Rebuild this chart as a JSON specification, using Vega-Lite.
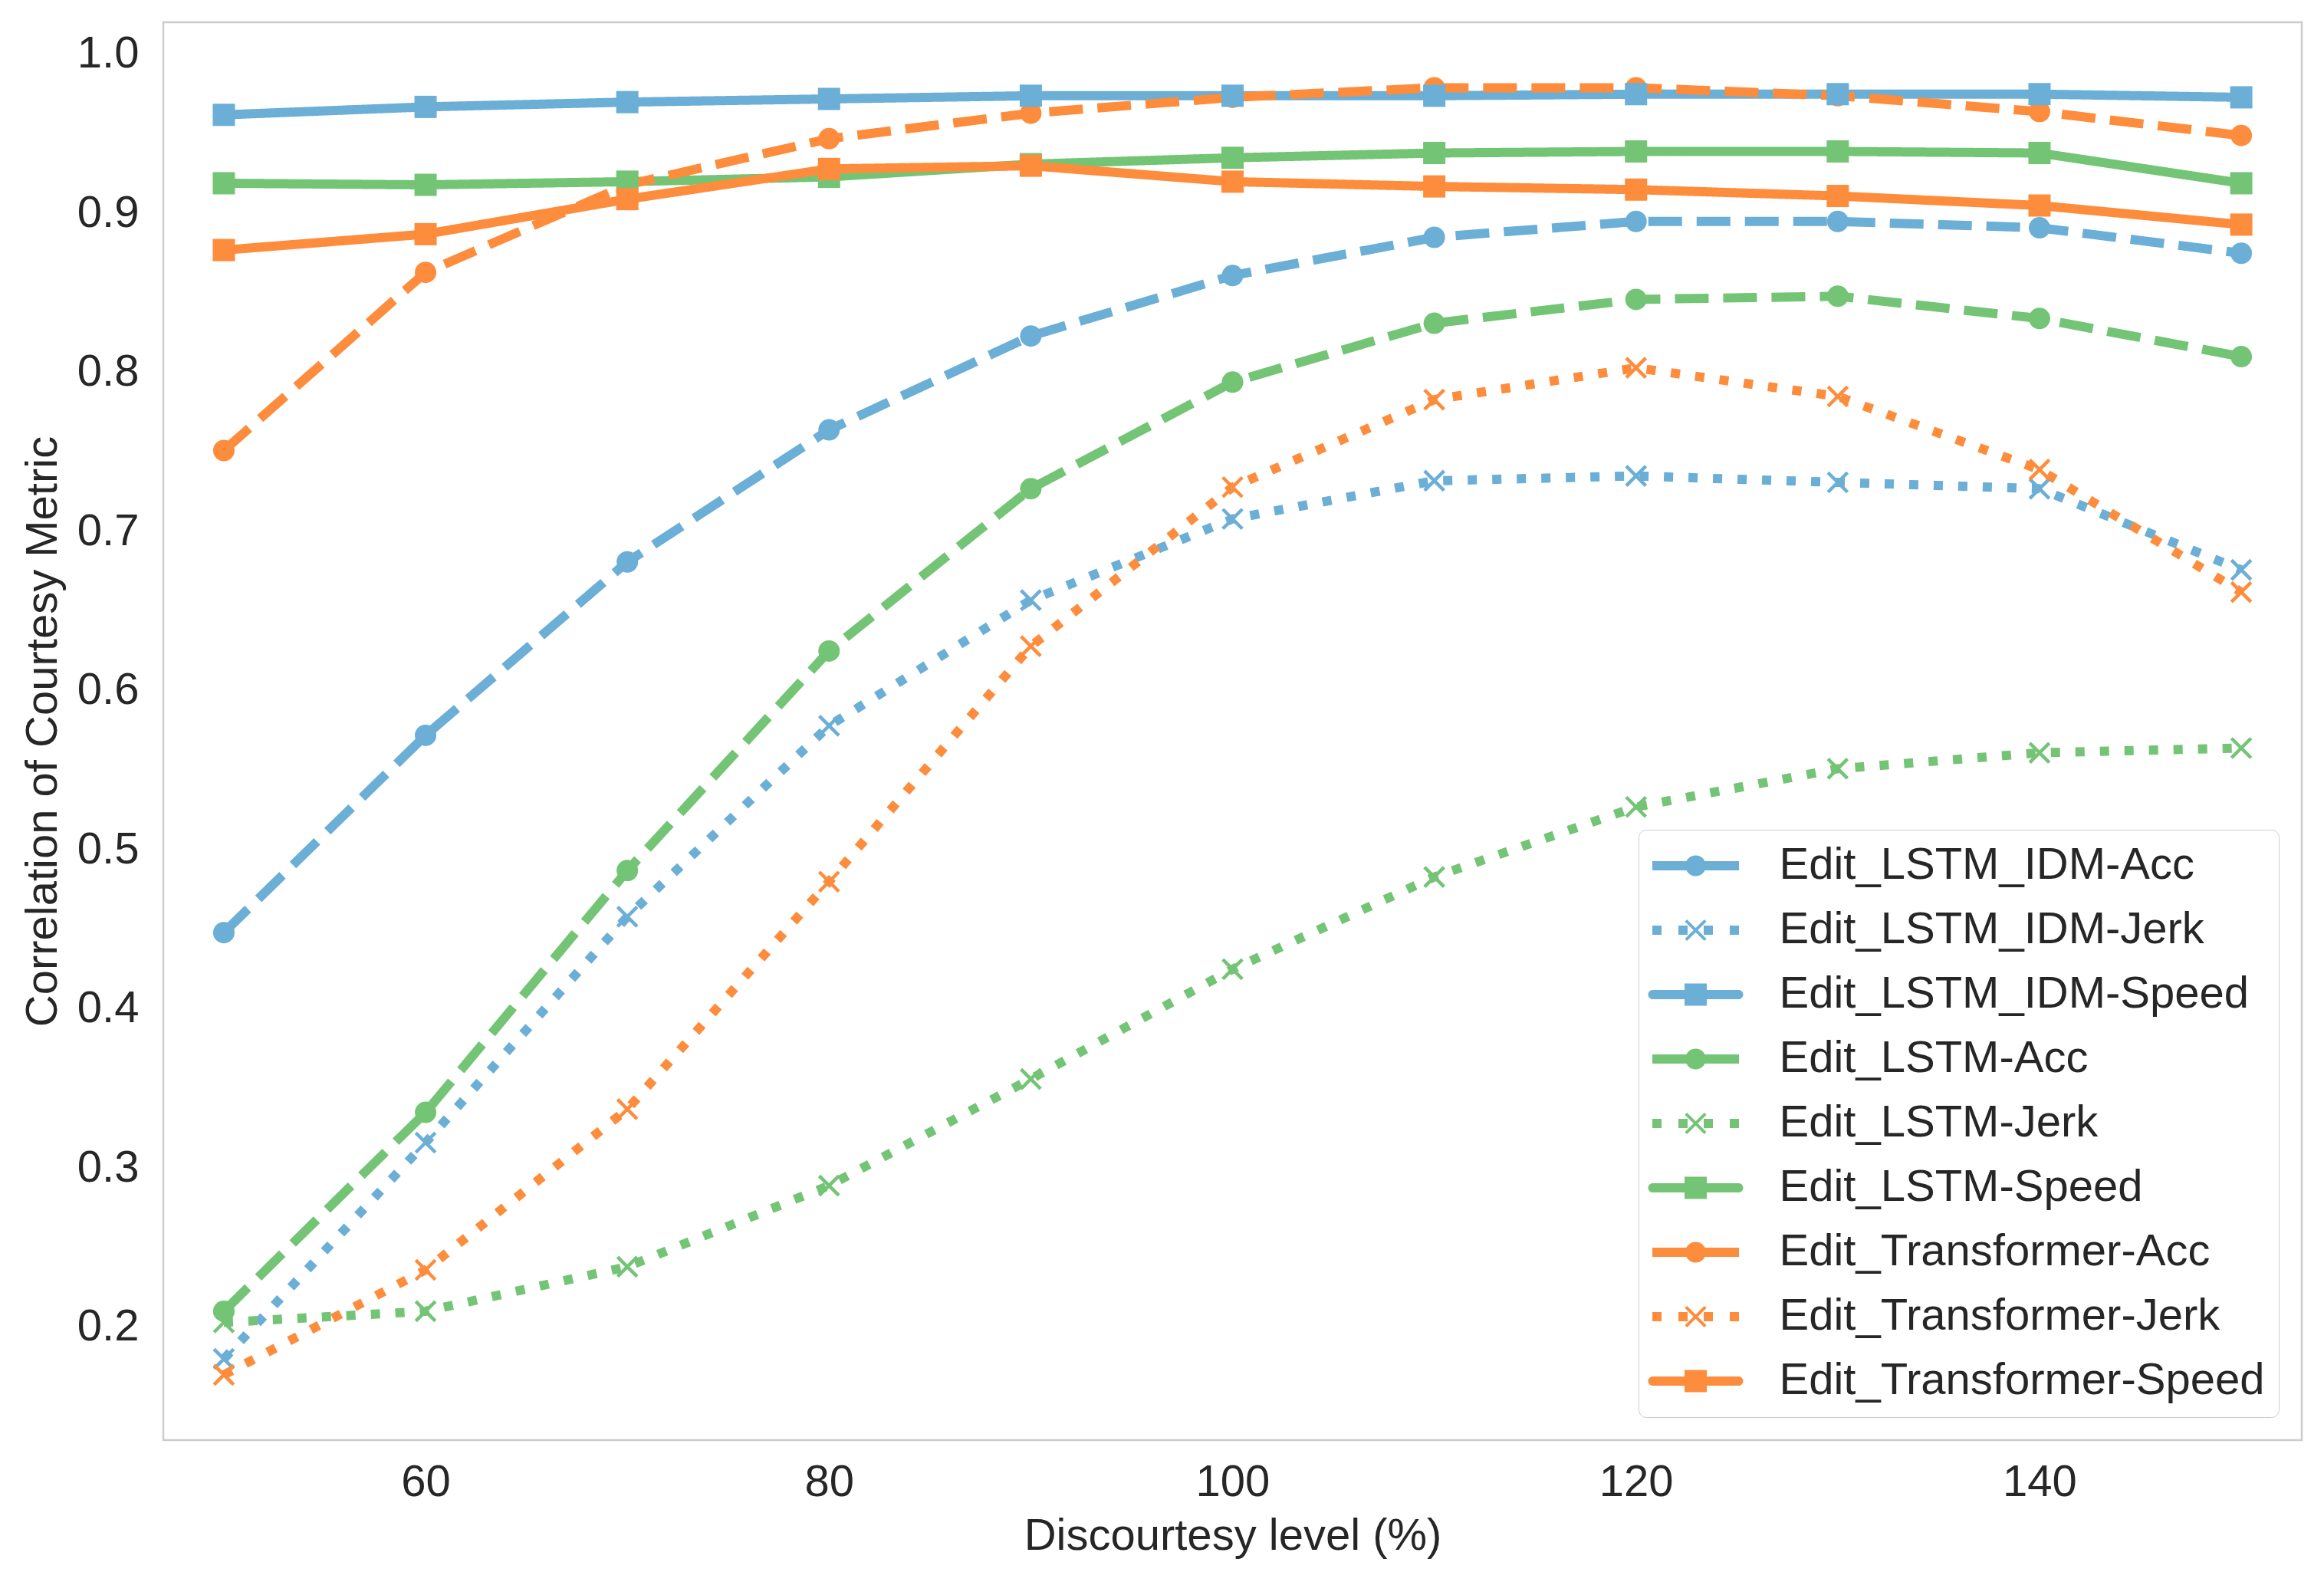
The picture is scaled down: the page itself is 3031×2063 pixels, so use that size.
{
  "$schema": "https://vega.github.io/schema/vega-lite/v6.json",
  "width": 2789,
  "height": 1849,
  "autosize": {"type": "none"},
  "padding": {"left": 213, "top": 29, "right": 29, "bottom": 185},
  "background": "white",
  "config": {
    "view": {"stroke": "#cccccc", "strokeWidth": 2.5},
    "font": "Liberation Sans",
    "axis": {
      "domain": false, "ticks": false, "tickSize": 0, "grid": false,
      "labelFont": "Liberation Sans", "labelFontSize": 58, "labelColor": "#262626",
      "titleFont": "Liberation Sans", "titleFontSize": 58, "titleFontWeight": "normal", "titleColor": "#262626"
    },
    "legend": {
      "labelFont": "Liberation Sans", "labelFontSize": 58, "labelColor": "#262626"
    }
  },
  "data": {
    "values": [
      {"series": "Edit_LSTM_IDM-Acc", "metric": "Acc", "level": 50, "corr": 0.448},
      {"series": "Edit_LSTM_IDM-Acc", "metric": "Acc", "level": 60, "corr": 0.572},
      {"series": "Edit_LSTM_IDM-Acc", "metric": "Acc", "level": 70, "corr": 0.681},
      {"series": "Edit_LSTM_IDM-Acc", "metric": "Acc", "level": 80, "corr": 0.764},
      {"series": "Edit_LSTM_IDM-Acc", "metric": "Acc", "level": 90, "corr": 0.823},
      {"series": "Edit_LSTM_IDM-Acc", "metric": "Acc", "level": 100, "corr": 0.861},
      {"series": "Edit_LSTM_IDM-Acc", "metric": "Acc", "level": 110, "corr": 0.885},
      {"series": "Edit_LSTM_IDM-Acc", "metric": "Acc", "level": 120, "corr": 0.895},
      {"series": "Edit_LSTM_IDM-Acc", "metric": "Acc", "level": 130, "corr": 0.895},
      {"series": "Edit_LSTM_IDM-Acc", "metric": "Acc", "level": 140, "corr": 0.891},
      {"series": "Edit_LSTM_IDM-Acc", "metric": "Acc", "level": 150, "corr": 0.875},

      {"series": "Edit_LSTM_IDM-Jerk", "metric": "Jerk", "level": 50, "corr": 0.180},
      {"series": "Edit_LSTM_IDM-Jerk", "metric": "Jerk", "level": 60, "corr": 0.316},
      {"series": "Edit_LSTM_IDM-Jerk", "metric": "Jerk", "level": 70, "corr": 0.458},
      {"series": "Edit_LSTM_IDM-Jerk", "metric": "Jerk", "level": 80, "corr": 0.578},
      {"series": "Edit_LSTM_IDM-Jerk", "metric": "Jerk", "level": 90, "corr": 0.657},
      {"series": "Edit_LSTM_IDM-Jerk", "metric": "Jerk", "level": 100, "corr": 0.708},
      {"series": "Edit_LSTM_IDM-Jerk", "metric": "Jerk", "level": 110, "corr": 0.732},
      {"series": "Edit_LSTM_IDM-Jerk", "metric": "Jerk", "level": 120, "corr": 0.735},
      {"series": "Edit_LSTM_IDM-Jerk", "metric": "Jerk", "level": 130, "corr": 0.731},
      {"series": "Edit_LSTM_IDM-Jerk", "metric": "Jerk", "level": 140, "corr": 0.727},
      {"series": "Edit_LSTM_IDM-Jerk", "metric": "Jerk", "level": 150, "corr": 0.676},

      {"series": "Edit_LSTM_IDM-Speed", "metric": "Speed", "level": 50, "corr": 0.962},
      {"series": "Edit_LSTM_IDM-Speed", "metric": "Speed", "level": 60, "corr": 0.967},
      {"series": "Edit_LSTM_IDM-Speed", "metric": "Speed", "level": 70, "corr": 0.970},
      {"series": "Edit_LSTM_IDM-Speed", "metric": "Speed", "level": 80, "corr": 0.972},
      {"series": "Edit_LSTM_IDM-Speed", "metric": "Speed", "level": 90, "corr": 0.974},
      {"series": "Edit_LSTM_IDM-Speed", "metric": "Speed", "level": 100, "corr": 0.974},
      {"series": "Edit_LSTM_IDM-Speed", "metric": "Speed", "level": 110, "corr": 0.974},
      {"series": "Edit_LSTM_IDM-Speed", "metric": "Speed", "level": 120, "corr": 0.975},
      {"series": "Edit_LSTM_IDM-Speed", "metric": "Speed", "level": 130, "corr": 0.975},
      {"series": "Edit_LSTM_IDM-Speed", "metric": "Speed", "level": 140, "corr": 0.975},
      {"series": "Edit_LSTM_IDM-Speed", "metric": "Speed", "level": 150, "corr": 0.973},

      {"series": "Edit_LSTM-Acc", "metric": "Acc", "level": 50, "corr": 0.210},
      {"series": "Edit_LSTM-Acc", "metric": "Acc", "level": 60, "corr": 0.335},
      {"series": "Edit_LSTM-Acc", "metric": "Acc", "level": 70, "corr": 0.487},
      {"series": "Edit_LSTM-Acc", "metric": "Acc", "level": 80, "corr": 0.625},
      {"series": "Edit_LSTM-Acc", "metric": "Acc", "level": 90, "corr": 0.727},
      {"series": "Edit_LSTM-Acc", "metric": "Acc", "level": 100, "corr": 0.794},
      {"series": "Edit_LSTM-Acc", "metric": "Acc", "level": 110, "corr": 0.831},
      {"series": "Edit_LSTM-Acc", "metric": "Acc", "level": 120, "corr": 0.846},
      {"series": "Edit_LSTM-Acc", "metric": "Acc", "level": 130, "corr": 0.848},
      {"series": "Edit_LSTM-Acc", "metric": "Acc", "level": 140, "corr": 0.834},
      {"series": "Edit_LSTM-Acc", "metric": "Acc", "level": 150, "corr": 0.810},

      {"series": "Edit_LSTM-Jerk", "metric": "Jerk", "level": 50, "corr": 0.203},
      {"series": "Edit_LSTM-Jerk", "metric": "Jerk", "level": 60, "corr": 0.210},
      {"series": "Edit_LSTM-Jerk", "metric": "Jerk", "level": 70, "corr": 0.238},
      {"series": "Edit_LSTM-Jerk", "metric": "Jerk", "level": 80, "corr": 0.289},
      {"series": "Edit_LSTM-Jerk", "metric": "Jerk", "level": 90, "corr": 0.356},
      {"series": "Edit_LSTM-Jerk", "metric": "Jerk", "level": 100, "corr": 0.425},
      {"series": "Edit_LSTM-Jerk", "metric": "Jerk", "level": 110, "corr": 0.483},
      {"series": "Edit_LSTM-Jerk", "metric": "Jerk", "level": 120, "corr": 0.527},
      {"series": "Edit_LSTM-Jerk", "metric": "Jerk", "level": 130, "corr": 0.551},
      {"series": "Edit_LSTM-Jerk", "metric": "Jerk", "level": 140, "corr": 0.561},
      {"series": "Edit_LSTM-Jerk", "metric": "Jerk", "level": 150, "corr": 0.564},

      {"series": "Edit_LSTM-Speed", "metric": "Speed", "level": 50, "corr": 0.919},
      {"series": "Edit_LSTM-Speed", "metric": "Speed", "level": 60, "corr": 0.918},
      {"series": "Edit_LSTM-Speed", "metric": "Speed", "level": 70, "corr": 0.920},
      {"series": "Edit_LSTM-Speed", "metric": "Speed", "level": 80, "corr": 0.923},
      {"series": "Edit_LSTM-Speed", "metric": "Speed", "level": 90, "corr": 0.931},
      {"series": "Edit_LSTM-Speed", "metric": "Speed", "level": 100, "corr": 0.935},
      {"series": "Edit_LSTM-Speed", "metric": "Speed", "level": 110, "corr": 0.938},
      {"series": "Edit_LSTM-Speed", "metric": "Speed", "level": 120, "corr": 0.939},
      {"series": "Edit_LSTM-Speed", "metric": "Speed", "level": 130, "corr": 0.939},
      {"series": "Edit_LSTM-Speed", "metric": "Speed", "level": 140, "corr": 0.938},
      {"series": "Edit_LSTM-Speed", "metric": "Speed", "level": 150, "corr": 0.919},

      {"series": "Edit_Transformer-Acc", "metric": "Acc", "level": 50, "corr": 0.751},
      {"series": "Edit_Transformer-Acc", "metric": "Acc", "level": 60, "corr": 0.863},
      {"series": "Edit_Transformer-Acc", "metric": "Acc", "level": 70, "corr": 0.918},
      {"series": "Edit_Transformer-Acc", "metric": "Acc", "level": 80, "corr": 0.947},
      {"series": "Edit_Transformer-Acc", "metric": "Acc", "level": 90, "corr": 0.963},
      {"series": "Edit_Transformer-Acc", "metric": "Acc", "level": 100, "corr": 0.973},
      {"series": "Edit_Transformer-Acc", "metric": "Acc", "level": 110, "corr": 0.979},
      {"series": "Edit_Transformer-Acc", "metric": "Acc", "level": 120, "corr": 0.979},
      {"series": "Edit_Transformer-Acc", "metric": "Acc", "level": 130, "corr": 0.974},
      {"series": "Edit_Transformer-Acc", "metric": "Acc", "level": 140, "corr": 0.964},
      {"series": "Edit_Transformer-Acc", "metric": "Acc", "level": 150, "corr": 0.949},

      {"series": "Edit_Transformer-Jerk", "metric": "Jerk", "level": 50, "corr": 0.170},
      {"series": "Edit_Transformer-Jerk", "metric": "Jerk", "level": 60, "corr": 0.236},
      {"series": "Edit_Transformer-Jerk", "metric": "Jerk", "level": 70, "corr": 0.337},
      {"series": "Edit_Transformer-Jerk", "metric": "Jerk", "level": 80, "corr": 0.480},
      {"series": "Edit_Transformer-Jerk", "metric": "Jerk", "level": 90, "corr": 0.628},
      {"series": "Edit_Transformer-Jerk", "metric": "Jerk", "level": 100, "corr": 0.728},
      {"series": "Edit_Transformer-Jerk", "metric": "Jerk", "level": 110, "corr": 0.783},
      {"series": "Edit_Transformer-Jerk", "metric": "Jerk", "level": 120, "corr": 0.803},
      {"series": "Edit_Transformer-Jerk", "metric": "Jerk", "level": 130, "corr": 0.785},
      {"series": "Edit_Transformer-Jerk", "metric": "Jerk", "level": 140, "corr": 0.739},
      {"series": "Edit_Transformer-Jerk", "metric": "Jerk", "level": 150, "corr": 0.662},

      {"series": "Edit_Transformer-Speed", "metric": "Speed", "level": 50, "corr": 0.877},
      {"series": "Edit_Transformer-Speed", "metric": "Speed", "level": 60, "corr": 0.887},
      {"series": "Edit_Transformer-Speed", "metric": "Speed", "level": 70, "corr": 0.909},
      {"series": "Edit_Transformer-Speed", "metric": "Speed", "level": 80, "corr": 0.928},
      {"series": "Edit_Transformer-Speed", "metric": "Speed", "level": 90, "corr": 0.930},
      {"series": "Edit_Transformer-Speed", "metric": "Speed", "level": 100, "corr": 0.920},
      {"series": "Edit_Transformer-Speed", "metric": "Speed", "level": 110, "corr": 0.917},
      {"series": "Edit_Transformer-Speed", "metric": "Speed", "level": 120, "corr": 0.915},
      {"series": "Edit_Transformer-Speed", "metric": "Speed", "level": 130, "corr": 0.911},
      {"series": "Edit_Transformer-Speed", "metric": "Speed", "level": 140, "corr": 0.905},
      {"series": "Edit_Transformer-Speed", "metric": "Speed", "level": 150, "corr": 0.893}
    ]
  },
  "encoding": {
    "x": {
      "field": "level", "type": "quantitative",
      "scale": {"domain": [47, 153], "nice": false, "zero": false},
      "axis": {"values": [60, 80, 100, 120, 140], "labelPadding": 26, "title": "Discourtesy level (%)", "titleBaseline": "alphabetic", "titleY": 142}
    },
    "y": {
      "field": "corr", "type": "quantitative",
      "scale": {"domain": [0.129, 1.0202], "nice": false, "zero": false},
      "axis": {"values": [0.2, 0.3, 0.4, 0.5, 0.6, 0.7, 0.8, 0.9, 1.0], "format": ".1f", "labelPadding": 32, "title": "Correlation of Courtesy Metric", "titleBaseline": "alphabetic", "titleAngle": 270, "titleX": -140}
    },
    "color": {
      "field": "series", "type": "nominal",
      "scale": {
        "domain": ["Edit_LSTM_IDM-Acc", "Edit_LSTM_IDM-Jerk", "Edit_LSTM_IDM-Speed", "Edit_LSTM-Acc", "Edit_LSTM-Jerk", "Edit_LSTM-Speed", "Edit_Transformer-Acc", "Edit_Transformer-Jerk", "Edit_Transformer-Speed"],
        "range": ["#6baed6", "#6baed6", "#6baed6", "#74c476", "#74c476", "#74c476", "#fd8d3c", "#fd8d3c", "#fd8d3c"]
      },
      "legend": {
        "title": null,
        "orient": "bottom-right",
        "offset": 30,
        "padding": 18,
        "rowPadding": 26,
        "cornerRadius": 10,
        "strokeColor": "#cccccc",
        "fillColor": "white",
        "labelOffset": 80,
        "symbolOffset": 27.5,
        "labelLimit": 2000,
        "symbolSize": 1600,
        "symbolStrokeWidth": 0,
        "encode": {
          "symbols": {
            "update": {
              "shape": {"signal": "indexof(datum.value,'Acc')>=0 ? 'M-2.825,-0.3H2.825V0.3H-2.825Z M-0.675,0A0.675,0.675 0 1,1 0.675,0A0.675,0.675 0 1,1 -0.675,0Z' : indexof(datum.value,'Jerk')>=0 ? 'M-2.825,-0.3H-2.225V0.3H-2.825Z M-1.125,-0.3H-0.525V0.3H-1.125Z M0.525,-0.3H1.125V0.3H0.525Z M2.225,-0.3H2.825V0.3H2.225Z M-0.565,-0.705L0.705,0.565L0.565,0.705L-0.705,-0.565Z M-0.705,0.565L0.565,-0.705L0.705,-0.565L-0.565,0.705Z' : 'M-2.8,-0.3H2.8A0.3,0.3 0 0,1 2.8,0.3H-2.8A0.3,0.3 0 0,1 -2.8,-0.3Z M-0.725,-0.725H0.725V0.725H-0.725Z'"},
              "fill": {"signal": "indexof(datum.value,'LSTM_IDM')>=0 ? '#6baed6' : indexof(datum.value,'Transformer')>=0 ? '#fd8d3c' : '#74c476'"},
              "stroke": {"value": "transparent"},
              "strokeWidth": {"value": 0},
              "size": {"value": 1600},
              "opacity": {"value": 1}
            }
          }
        }
      }
    }
  },
  "layer": [
    {
      "mark": {"type": "line", "strokeWidth": 12, "strokeJoin": "round"},
      "encoding": {
        "strokeDash": {
          "field": "series", "type": "nominal",
          "scale": {
            "domain": ["Edit_LSTM_IDM-Acc", "Edit_LSTM_IDM-Jerk", "Edit_LSTM_IDM-Speed", "Edit_LSTM-Acc", "Edit_LSTM-Jerk", "Edit_LSTM-Speed", "Edit_Transformer-Acc", "Edit_Transformer-Jerk", "Edit_Transformer-Speed"],
            "range": [[44, 19], [12, 20], [1, 0], [44, 19], [12, 20], [1, 0], [44, 19], [12, 20], [1, 0]]
          },
          "legend": null
        }
      }
    },
    {
      "transform": [{"filter": "datum.metric === 'Acc'"}],
      "mark": {"type": "point", "shape": "circle", "filled": true, "size": 784, "opacity": 1}
    },
    {
      "transform": [{"filter": "datum.metric === 'Speed'"}],
      "mark": {"type": "point", "shape": "square", "filled": true, "size": 841, "opacity": 1}
    },
    {
      "transform": [{"filter": "datum.metric === 'Jerk'"}],
      "mark": {"type": "point", "shape": "M-1,-1L1,1M-1,1L1,-1", "filled": false, "strokeWidth": 4.5, "size": 650, "opacity": 1}
    }
  ]
}
